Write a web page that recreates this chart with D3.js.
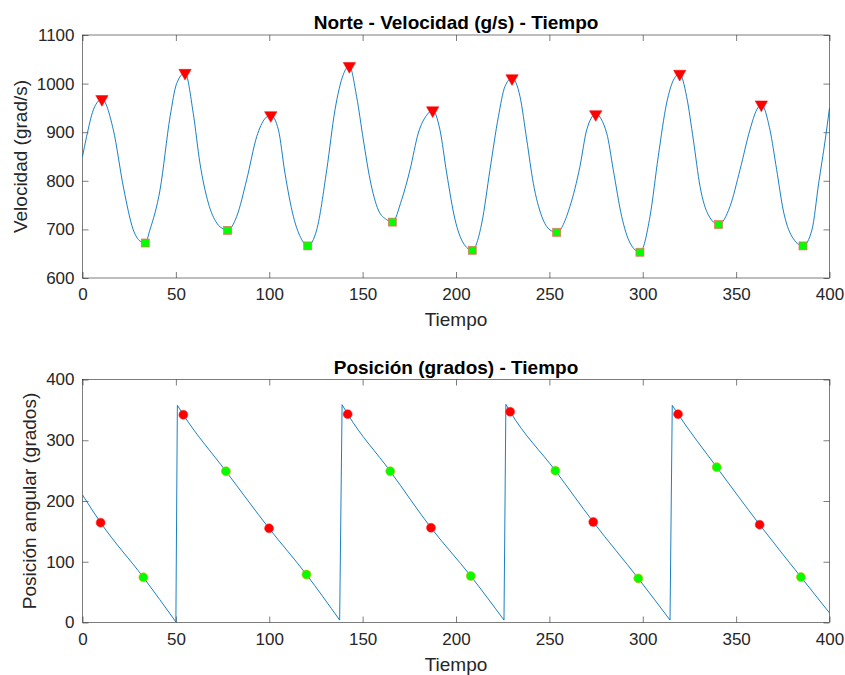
<!DOCTYPE html>
<html>
<head>
<meta charset="utf-8">
<script src="https://cdn.jsdelivr.net/npm/d3@7"></script>
<style>
    body { margin: 0; background: #fff; }
    text { font-family: "Liberation Sans", Arial, Helvetica, sans-serif; }
</style>
</head>
<body>
<div id="chart"></div>
<script>

// eje de tiempo y ticks
var tiempoTicks = [ 0, 50, 100, 150, 200, 250, 300, 350, 400 ];
var velTicks = [ 600, 700, 800, 900, 1000, 1100 ];
var posTicks = [ 0, 100, 200, 300, 400 ];

// velocidad [tiempo, grad/s]
var velocidad = [
    [0, 850], [2.2, 891], [5.8, 946], [8.5, 964], [10.4, 968], [16.5, 905], [22, 785], [27.2, 699],
    [30.8, 676], [33.6, 672], [36.1, 699], [41.5, 781], [46.9, 932], [50.4, 1000], [54.9, 1022],
    [59.3, 939], [62.9, 836], [67.4, 754], [71.9, 713], [75.4, 701], [77.7, 698], [82.6, 727],
    [87.9, 802], [93.3, 891], [97.7, 928], [100.8, 935], [104.9, 905], [108.4, 816], [112.9, 727],
    [117.4, 679], [120.6, 666], [125.4, 699], [130.8, 823], [135.2, 946], [139.7, 1019], [142.9, 1036],
    [146.8, 973], [150.4, 884], [154, 802], [158.4, 740], [162.9, 720], [165.9, 715], [170.9, 761],
    [175.4, 823], [179.8, 898], [184.3, 935], [187.5, 945], [191.4, 905], [195, 816], [199.5, 720],
    [203.9, 672], [208.7, 657], [213.8, 713], [218.2, 823], [222.7, 932], [226.2, 994], [230, 1011],
    [234.3, 973], [237.9, 884], [241.4, 795], [245.9, 727], [250.3, 699], [253.9, 694], [261, 747],
    [266.4, 830], [270, 905], [274.8, 937], [280.7, 898], [284.2, 823], [288.7, 727], [293.2, 672],
    [298.5, 653], [303.9, 727], [308.3, 850], [312.8, 960], [316.4, 1007], [319.8, 1020], [323.5, 973],
    [327.1, 884], [330.7, 788], [335.1, 730], [340.6, 710], [346.7, 747], [352.1, 823], [357.4, 905],
    [361, 946], [363.5, 957], [368.1, 905], [371.7, 823], [375.2, 740], [379.8, 686], [385.8, 666],
    [390.6, 699], [394.2, 795], [397.7, 884], [400, 950]
];

// picos (triangulos) y valles (cuadrados)
var tiempoPicos = [ 10.4, 54.9, 100.8, 142.9, 187.5, 230, 274.8, 319.8, 363.5 ];
var velPicos = [ 968, 1022, 935, 1036, 945, 1011, 937, 1020, 957 ];
var tiempoValles = [ 33.6, 77.7, 120.6, 165.9, 208.7, 253.9, 298.5, 340.6, 385.8 ];
var velValles = [ 672, 698, 666, 715, 657, 694, 653, 710, 666 ];

// posicion angular [tiempo, grados]
var posicion = [
    [0, 210], [9.7, 164.4], [32.6, 74.3], [50, 1],
    [50.8, 357.5], [54, 342], [76.8, 249], [99.9, 155], [119.9, 79], [137.7, 4],
    [139, 358.5], [142, 343], [164.8, 249], [186.6, 156], [207.9, 76.5], [225.7, 4],
    [226.7, 359], [229, 347], [253.2, 250], [273.5, 165.5], [297.6, 72.6], [314.6, 4],
    [315.8, 357.5], [318.9, 343], [339.6, 255.7], [362.6, 161], [384.7, 74.8], [400, 15.7]
];

var tiempoRojos = [ 9.7, 54, 99.9, 142, 186.6, 229, 273.5, 318.9, 362.6 ];
var posRojos = [ 164.4, 342, 155, 343, 156, 347, 165.5, 343, 161 ];
var tiempoVerdes = [ 32.6, 76.8, 119.9, 164.8, 207.9, 253.2, 297.6, 339.6, 384.7 ];
var posVerdes = [ 74.3, 249, 79, 249, 76.5, 250, 72.6, 255.7, 74.8 ];

var width = 845,
    height = 675;

var left = 82.5,
    right = 829.5;

var colorLinea = '#0072bd',
    colorEje = '#262626';

var svg = d3.select('#chart').append('svg')
    .attr('width', width)
    .attr('height', height)
    .style('display', 'block');

svg.append('rect')
    .attr('width', width)
    .attr('height', height)
    .attr('fill', '#fff');

function drawAxes ( top, bottom, yDomain, yTicks, title, yLabel, yLabelX ) {

    var x = d3.scaleLinear().domain([ 0, 400 ]).range([ left, right ]);
    var y = d3.scaleLinear().domain( yDomain ).range([ bottom, top ]);

    var g = svg.append('g');

    var axisStyle = function ( sel, fontSize ) {
        sel.select('.domain').remove();
        sel.selectAll('line').attr('stroke', colorEje).attr('stroke-width', 0.6);
        sel.selectAll('text')
            .attr('fill', colorEje)
            .style('font-size', fontSize + 'px');
    };

    g.append('g')
        .attr('transform', 'translate(0,' + bottom + ')')
        .call( d3.axisBottom( x ).tickValues( tiempoTicks ).tickFormat( d3.format('d') ).tickSizeInner( -6 ).tickSizeOuter( 0 ).tickPadding( 10 ) )
        .call( axisStyle, 17 );

    g.append('g')
        .attr('transform', 'translate(0,' + top + ')')
        .call( d3.axisTop( x ).tickValues( tiempoTicks ).tickSizeInner( -6 ).tickSizeOuter( 0 ).tickFormat('') )
        .call( axisStyle, 17 );

    g.append('g')
        .attr('transform', 'translate(' + left + ',0)')
        .call( d3.axisLeft( y ).tickValues( yTicks ).tickFormat( d3.format('d') ).tickSizeInner( -6 ).tickSizeOuter( 0 ).tickPadding( 8 ) )
        .call( axisStyle, 17 );

    g.append('g')
        .attr('transform', 'translate(' + right + ',0)')
        .call( d3.axisRight( y ).tickValues( yTicks ).tickSizeInner( -6 ).tickSizeOuter( 0 ).tickFormat('') )
        .call( axisStyle, 17 );

    // caja
    g.append('rect')
        .attr('x', left)
        .attr('y', top)
        .attr('width', right - left)
        .attr('height', bottom - top)
        .attr('fill', 'none')
        .attr('stroke', colorEje)
        .attr('stroke-width', 0.6);

    g.append('text')
        .attr('x', ( left + right ) / 2)
        .attr('y', top - 6)
        .attr('text-anchor', 'middle')
        .style('font-size', '19px')
        .style('font-weight', 'bold')
        .attr('fill', '#000')
        .text( title );

    g.append('text')
        .attr('x', ( left + right ) / 2)
        .attr('y', bottom + 48)
        .attr('text-anchor', 'middle')
        .style('font-size', '19px')
        .attr('fill', colorEje)
        .text('Tiempo');

    g.append('text')
        .attr('transform', 'translate(' + yLabelX + ',' + ( top + bottom ) / 2 + ') rotate(-90)')
        .attr('text-anchor', 'middle')
        .style('font-size', '19px')
        .attr('fill', colorEje)
        .text( yLabel );

    return { x: x, y: y };
}

// primer grafico: velocidad

var s1 = drawAxes( 35, 278, [ 600, 1100 ], velTicks, 'Norte - Velocidad (g/s) - Tiempo', 'Velocidad (grad/s)', 27 );

var lineVel = d3.line()
    .x( function ( d ) { return s1.x( d[0] ); })
    .y( function ( d ) { return s1.y( d[1] ); })
    .curve( d3.curveMonotoneX );

svg.append('path')
    .datum( velocidad )
    .attr('d', lineVel)
    .attr('fill', 'none')
    .attr('stroke', colorLinea)
    .attr('stroke-width', 0.9);

svg.selectAll('.pico')
    .data( tiempoPicos )
    .enter().append('path')
    .attr('class', 'pico')
    .attr('d', d3.symbol().type( d3.symbolTriangle ).size( 66 ))
    .attr('transform', function ( d, i ) { return 'translate(' + s1.x( d ) + ',' + s1.y( velPicos[i] ) + ') rotate(180)'; })
    .attr('fill', '#ff0000')
    .attr('stroke', '#ff0000')
    .attr('stroke-width', 0.5);

svg.selectAll('.valle')
    .data( tiempoValles )
    .enter().append('rect')
    .attr('class', 'valle')
    .attr('x', function ( d ) { return s1.x( d ) - 4; })
    .attr('y', function ( d, i ) { return s1.y( velValles[i] ) - 4; })
    .attr('width', 8)
    .attr('height', 8)
    .attr('fill', '#00ff00')
    .attr('stroke', '#ff6666')
    .attr('stroke-width', 0.7);

// segundo grafico: posicion

var s2 = drawAxes( 379.5, 622.5, [ 0, 400 ], posTicks, 'Posición (grados) - Tiempo', 'Posición angular (grados)', 36 );

// separar en tramos donde la posicion salta
var tramos = [ [ posicion[0] ] ];
var saltos = [];
for ( var i = 1; i < posicion.length; i++ ) {
    if ( posicion[i][1] - posicion[i - 1][1] > 100 ) {
        saltos.push([ posicion[i - 1], posicion[i] ]);
        tramos.push([]);
    }
    tramos[ tramos.length - 1 ].push( posicion[i] );
}

var linePos = d3.line()
    .x( function ( d ) { return s2.x( d[0] ); })
    .y( function ( d ) { return s2.y( d[1] ); });

svg.selectAll('.tramo')
    .data( tramos )
    .enter().append('path')
    .attr('class', 'tramo')
    .attr('d', linePos.curve( d3.curveMonotoneX ))
    .attr('fill', 'none')
    .attr('stroke', colorLinea)
    .attr('stroke-width', 0.9);

var lineSalto = d3.line()
    .x( function ( d ) { return s2.x( d[0] ); })
    .y( function ( d ) { return s2.y( d[1] ); });

svg.selectAll('.salto')
    .data( saltos )
    .enter().append('path')
    .attr('class', 'salto')
    .attr('d', lineSalto)
    .attr('fill', 'none')
    .attr('stroke', colorLinea)
    .attr('stroke-width', 0.9);

svg.selectAll('.rojo')
    .data( tiempoRojos )
    .enter().append('circle')
    .attr('class', 'rojo')
    .attr('cx', function ( d ) { return s2.x( d ); })
    .attr('cy', function ( d, i ) { return s2.y( posRojos[i] ); })
    .attr('r', 4.5)
    .attr('fill', '#ff0000')
    .attr('stroke', '#ff3030')
    .attr('stroke-width', 0.5);

svg.selectAll('.verde')
    .data( tiempoVerdes )
    .enter().append('circle')
    .attr('class', 'verde')
    .attr('cx', function ( d ) { return s2.x( d ); })
    .attr('cy', function ( d, i ) { return s2.y( posVerdes[i] ); })
    .attr('r', 4.5)
    .attr('fill', '#00ff00')
    .attr('stroke', '#e0b000')
    .attr('stroke-width', 0.6);

</script>
</body>
</html>
